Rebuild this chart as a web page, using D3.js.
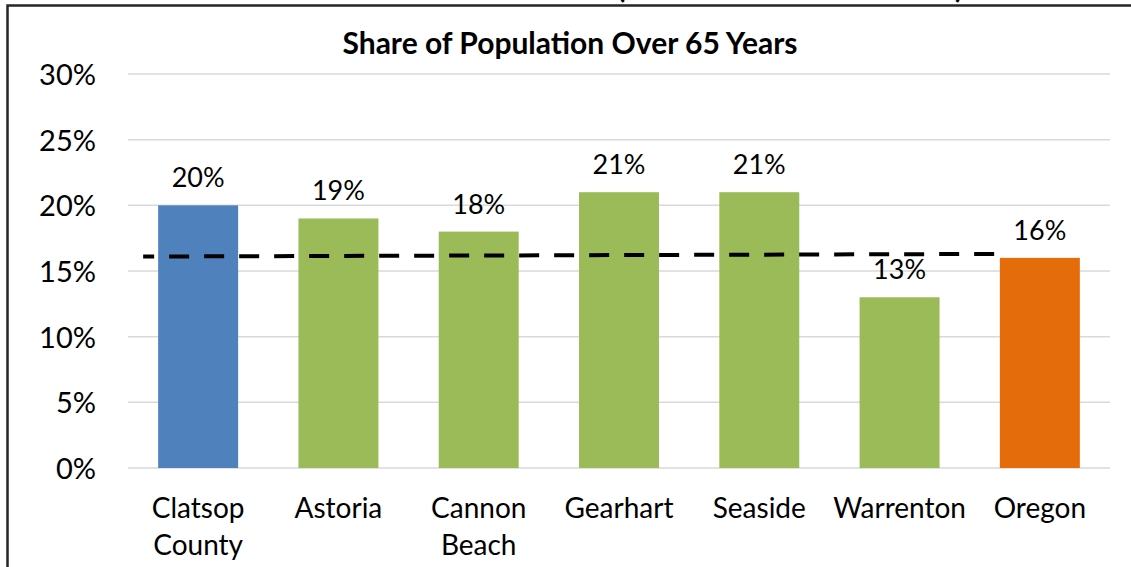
<!DOCTYPE html>
<html>
<head>
<meta charset="utf-8">
<script src="https://cdn.jsdelivr.net/npm/d3@7"></script>
<style>
  body { margin: 0; background: #fff; }
  svg { display: block; font-family: Lato, "Open Sans", sans-serif; }
</style>
</head>
<body>
<svg id="chart" width="1131" height="567"></svg>
<script>
// chart data
let categories = ["Clatsop County", "Astoria", "Cannon Beach", "Gearhart", "Seaside", "Warrenton", "Oregon"];
let shareOver65 = [0.20, 0.19, 0.18, 0.21, 0.21, 0.13, 0.16];
let barColors = ["#4F81BD", "#9BBB59", "#9BBB59", "#9BBB59", "#9BBB59", "#9BBB59", "#E46C0A"];
let yTicks = [0, 0.05, 0.10, 0.15, 0.20, 0.25, 0.30];
let refLine = [0.161, 0.163];

let chartAttr = {
  "width": 1131,
  "height": 567,
  "left": 128,
  "right": 1110,
  "top": 74,
  "bottom": 468
};

let svg = d3.select("#chart");

let x = d3.scaleBand()
  .domain(categories)
  .range([chartAttr.left, chartAttr.right])
  .paddingInner(0.43)
  .paddingOuter(0.215);

let y = d3.scaleLinear()
  .domain([0, 0.30])
  .range([chartAttr.bottom, chartAttr.top]);

// cut off text peeking from above the frame
svg.append("text")
  .attr("x", 621)
  .attr("y", -2)
  .text("(")
  .style("font-size", 30)
  .style("font-weight", "bold")
  .style("text-anchor", "middle");
svg.append("text")
  .attr("x", 959)
  .attr("y", -2)
  .text(")")
  .style("font-size", 30)
  .style("font-weight", "bold")
  .style("text-anchor", "middle");

// frame
svg.append("path")
  .attr("d", "M7.5,567V5.5H1131")
  .style("fill", "none")
  .style("stroke", "#262626")
  .style("stroke-width", 2.5);

// gridlines
svg.selectAll(".grid")
  .data(yTicks)
  .enter()
  .append("line")
  .attr("class", "grid")
  .attr("x1", chartAttr.left)
  .attr("x2", chartAttr.right)
  .attr("y1", d => y(d))
  .attr("y2", d => y(d))
  .style("stroke", "#D9D9D9")
  .style("stroke-width", 1.5);

// y axis labels
let yAxis = d3.axisLeft(y)
  .tickValues(yTicks)
  .tickFormat(d3.format(".0%"))
  .tickSize(0)
  .tickPadding(0);
let yAxisG = svg.append("g")
  .attr("transform", "translate(96,0)")
  .call(yAxis);
yAxisG.select(".domain").remove();
yAxisG.selectAll("text")
  .attr("dy", "0.36em")
  .style("font-family", "Lato, 'Open Sans', sans-serif")
  .style("font-size", 29)
  .style("fill", "#000");

// bars
svg.selectAll(".bar")
  .data(categories)
  .enter()
  .append("rect")
  .attr("class", "bar")
  .attr("x", d => x(d))
  .attr("y", (d, i) => y(shareOver65[i]))
  .attr("width", x.bandwidth())
  .attr("height", (d, i) => y(0) - y(shareOver65[i]))
  .style("fill", (d, i) => barColors[i]);

// value labels
svg.selectAll(".valLabel")
  .data(categories)
  .enter()
  .append("text")
  .attr("class", "valLabel")
  .attr("x", d => x(d) + x.bandwidth()/2)
  .attr("y", (d, i) => y(shareOver65[i]) - 18)
  .text((d, i) => d3.format(".0%")(shareOver65[i]))
  .style("text-anchor", "middle")
  .style("font-size", 27);

// dashed average line
svg.append("line")
  .attr("x1", x(categories[0]) - 15)
  .attr("x2", x(categories[6]) - 5)
  .attr("y1", y(refLine[0]))
  .attr("y2", y(refLine[1]))
  .style("stroke", "#000")
  .style("stroke-width", 4)
  .style("stroke-dasharray", "20,15")
  .style("stroke-dashoffset", 9);

// category labels (wrapped on spaces)
let count = 0;
for (var cat of categories) {
  let words = cat.split(" ");
  let label = svg.append("text")
    .attr("x", x(cat) + x.bandwidth()/2)
    .attr("y", 518)
    .style("text-anchor", "middle")
    .style("font-size", 28);
  words.forEach((w, j) => {
    label.append("tspan")
      .attr("x", x(cat) + x.bandwidth()/2)
      .attr("dy", j == 0 ? 0 : 37)
      .text(w);
  });
  count = count + 1;
}

// title
svg.append("text")
  .attr("x", 570)
  .attr("y", 54)
  .text("Share of Population Over 65 Years")
  .style("font-weight", "bold")
  .style("text-anchor", "middle")
  .style("font-size", 30);
</script>
</body>
</html>
